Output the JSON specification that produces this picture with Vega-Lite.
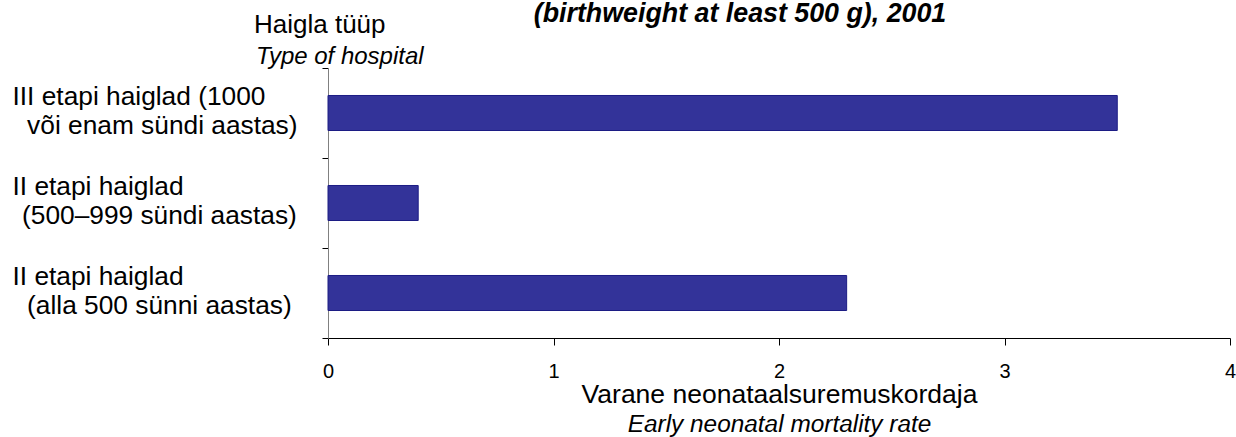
{
  "$schema": "https://vega.github.io/schema/vega-lite/v6.json",
  "autosize": {"type": "none"},
  "width": 902,
  "height": 270,
  "padding": {"left": 328, "top": 68, "right": 6, "bottom": 99},
  "background": "white",
  "title": {
    "text": "(birthweight at least 500 g), 2001",
    "frame": "group",
    "anchor": "middle",
    "dx": -39,
    "offset": -17,
    "font": "Liberation Sans",
    "fontSize": 26.8,
    "fontStyle": "italic",
    "fontWeight": "bold",
    "color": "black"
  },
  "config": {
    "view": {"stroke": null},
    "axis": {"grid": false}
  },
  "data": {
    "values": [
      {"haigla": "III etapi haiglad (1000|\u200b\u00a0\u00a0või enam sündi aastas)", "kordaja": 3.5},
      {"haigla": "II etapi haiglad|\u200b\u00a0\u200a(500–999 sündi aastas)", "kordaja": 0.4},
      {"haigla": "II etapi haiglad|\u200b\u00a0\u00a0(alla 500 sünni aastas)", "kordaja": 2.3}
    ]
  },
  "resolve": {"axis": {"x": "independent", "y": "independent"}},
  "layer": [
    {
      "mark": {"type": "bar", "color": "#333399", "stroke": "#1c1c84", "strokeWidth": 1, "height": {"band": 0.389}},
      "encoding": {
        "y": {
          "field": "haigla",
          "type": "nominal",
          "sort": null,
          "scale": {"paddingInner": 0, "paddingOuter": 0},
          "axis": {
            "orient": "left",
            "title": "Haigla tüüp",
            "titleAngle": 0,
            "titleAlign": "left",
            "titleBaseline": "alphabetic",
            "titleX": -74.5,
            "titleY": -36,
            "titleFont": "Liberation Sans",
            "titleFontSize": 26,
            "titleFontWeight": "normal",
            "titleColor": "black",
            "labelExpr": "split(datum.label, '|')",
            "labelAlign": "left",
            "labelBaseline": "middle",
            "labelOffset": -17,
            "labelFont": "Liberation Sans",
            "labelFontSize": 26.3,
            "labelLineHeight": 29,
            "labelColor": "black",
            "labelPadding": 310,
            "labelLimit": 400,
            "tickBand": "extent",
            "tickSize": 6,
            "tickColor": "black",
            "domainColor": "#808080"
          }
        },
        "x": {
          "field": "kordaja",
          "type": "quantitative",
          "scale": {"domain": [0, 4], "nice": false, "zero": true},
          "axis": {
            "orient": "bottom",
            "title": "Varane neonataalsuremuskordaja",
            "titleFont": "Liberation Sans",
            "titleFontSize": 26.5,
            "titleFontWeight": "normal",
            "titleColor": "black",
            "titleBaseline": "alphabetic",
            "titleY": 64.5,
            "values": [0, 1, 2, 3, 4],
            "format": "d",
            "labelFont": "Liberation Sans",
            "labelFontSize": 20,
            "labelColor": "black",
            "labelPadding": 16.5,
            "labelFlush": false,
            "labelOverlap": false,
            "tickSize": 7,
            "tickColor": "black",
            "domainColor": "black"
          }
        }
      }
    },
    {
      "mark": {"type": "bar", "opacity": 0},
      "encoding": {
        "y": {
          "field": "haigla",
          "type": "nominal",
          "sort": null,
          "axis": {
            "orient": "left",
            "title": "Type of hospital",
            "titleAngle": 0,
            "titleAlign": "left",
            "titleBaseline": "alphabetic",
            "titleX": -72.5,
            "titleY": -5,
            "titleFont": "Liberation Sans",
            "titleFontSize": 24,
            "titleFontStyle": "italic",
            "titleFontWeight": "normal",
            "titleColor": "black",
            "labels": false,
            "ticks": false,
            "domain": false
          }
        },
        "x": {
          "field": "kordaja",
          "type": "quantitative",
          "axis": {
            "orient": "bottom",
            "title": "Early neonatal mortality rate",
            "titleFont": "Liberation Sans",
            "titleFontSize": 24.4,
            "titleFontStyle": "italic",
            "titleFontWeight": "normal",
            "titleColor": "black",
            "titleBaseline": "alphabetic",
            "titleY": 93,
            "labels": false,
            "ticks": false,
            "domain": false
          }
        }
      }
    }
  ]
}
